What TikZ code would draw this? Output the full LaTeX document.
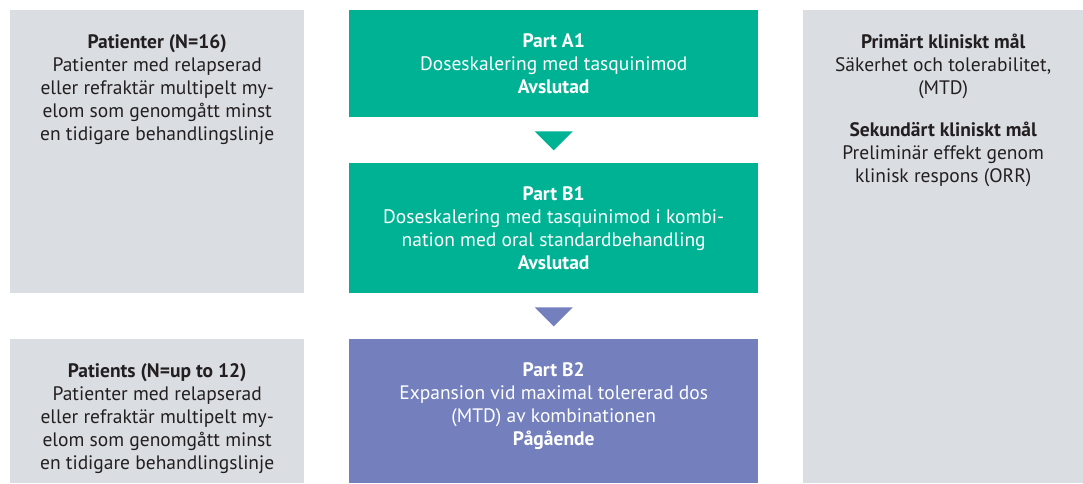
\documentclass[tikz,border=0pt]{standalone}
\usepackage{fontspec}
\setmainfont{PT Sans}
\definecolor{boxgray}{HTML}{DADDE2}
\definecolor{partgreen}{HTML}{00B294}
\definecolor{partblue}{HTML}{7480BE}
\definecolor{textdark}{HTML}{231F20}
\begin{document}
\begin{tikzpicture}[x=1pt,y=-1pt,
        sidebox/.style={fill=boxgray,anchor=north west,inner sep=0pt},
        partbox/.style={anchor=north west,inner sep=0pt,minimum width=409pt},
        boxtext/.style={align=center,inner sep=0pt,font=\fontsize{19.5pt}{23pt}\selectfont},
        sidetext/.style={boxtext,anchor=north,text=textdark}]
        \useasboundingbox (0,0) rectangle (1083,483);
        \node[sidebox,minimum width=294pt,minimum height=283pt] (pat16) at (10,10) {};
        \node[sidebox,minimum width=294pt,minimum height=144pt] (pat12) at (10,339) {};
        \node[sidebox,minimum width=280pt,minimum height=473pt] (goals) at (803,10) {};
        \node[partbox,fill=partgreen,minimum height=107pt] (a1) at (349,10) {};
        \node[partbox,fill=partgreen,minimum height=130pt] (b1) at (349,163) {};
        \node[partbox,fill=partblue,minimum height=144pt] (b2) at (349,339) {};
        \fill[partgreen] ([xshift=-19pt,yshift=-14pt]a1.south) -- ([xshift=19pt,yshift=-14pt]a1.south) -- ([yshift=-33pt]a1.south) -- cycle;
        \fill[partblue] ([xshift=-19pt,yshift=-14pt]b1.south) -- ([xshift=19pt,yshift=-14pt]b1.south) -- ([yshift=-33pt]b1.south) -- cycle;
        \node[sidetext] (pat16txt) at ([yshift=-24pt]pat16.north) {\textbf{Patienter (N=16)}\\Patienter med relapserad\\eller refraktär multipelt my-\\elom som genomgått minst\\en tidigare behandlingslinje};
        \node[sidetext] (pat12txt) at ([yshift=-24pt]pat12.north) {\textbf{Patients (N=up to 12)}\\Patienter med relapserad\\eller refraktär multipelt my-\\elom som genomgått minst\\en tidigare behandlingslinje};
        \node[sidetext] (goalstxt) at ([yshift=-24pt]goals.north) {\textbf{Primärt kliniskt mål}\\Säkerhet och tolerabilitet,\\(MTD)\\[19pt]\textbf{Sekundärt kliniskt mål}\\Preliminär effekt genom\\klinisk respons (ORR)};
        \node[boxtext,text=white] (a1txt) at (a1.center) {\textbf{Part A1}\\Doseskalering med tasquinimod\\\textbf{Avslutad}};
        \node[boxtext,text=white] (b1txt) at (b1.center) {\textbf{Part B1}\\Doseskalering med tasquinimod i kombi-\\nation med oral standardbehandling\\\textbf{Avslutad}};
        \node[boxtext,text=white] (b2txt) at ([yshift=5pt]b2.center) {\textbf{Part B2}\\Expansion vid maximal tolererad dos\\(MTD) av kombinationen\\\textbf{Pågående}};
\end{tikzpicture}
\end{document}
